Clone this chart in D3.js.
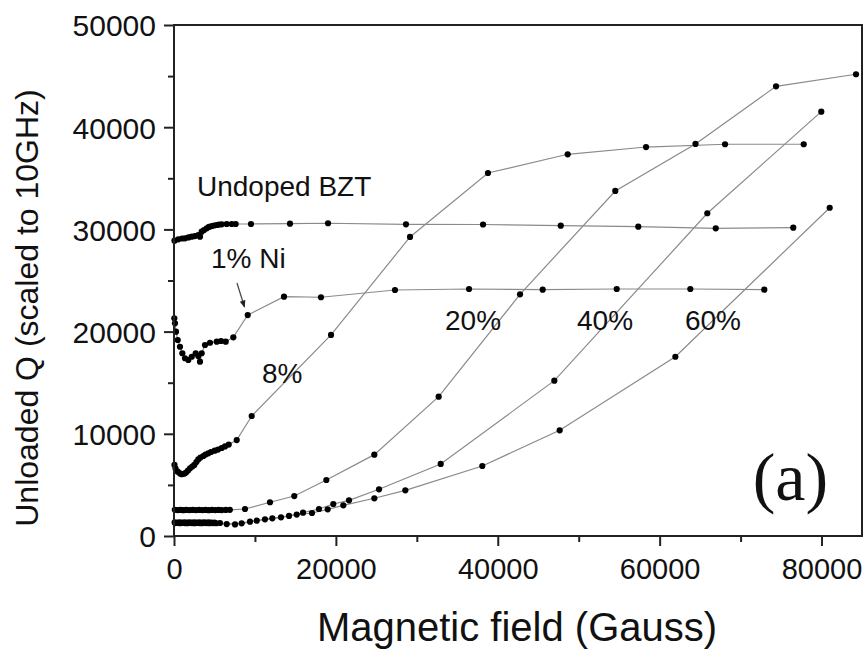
<!DOCTYPE html>
<html>
<head>
<meta charset="utf-8">
<script src="https://cdn.jsdelivr.net/npm/d3@7/dist/d3.min.js"></script>
<style>
  html, body { margin: 0; padding: 0; background: #fff; }
  svg { display: block; }
</style>
</head>
<body>
<svg id="chart" width="868" height="652"></svg>
<script>
// Unloaded Q (scaled to 10 GHz) versus applied magnetic field, per Ni doping level.
// Each series is [field (Gauss), Q] pairs.
const undoped = [
  [60, 28900], [530, 29030], [990, 29110], [1360, 29130], [1790, 29210], [2190, 29290],
  [2590, 29350], [3000, 29450], [3210, 29290], [3420, 29780], [3710, 29940], [4040, 30110],
  [4320, 30240], [4660, 30330], [4940, 30380], [5280, 30430], [5560, 30470], [5890, 30500],
  [6510, 30530], [7130, 30530], [7620, 30530], [9510, 30530], [14330, 30560], [19030, 30600],
  [28660, 30500], [38180, 30480], [47780, 30360], [57360, 30270], [66930, 30110], [76510, 30170]
];
const ni1 = [
  [40, 21300], [120, 20810], [250, 19990], [460, 19180], [740, 18520], [1030, 17880],
  [1360, 17390], [1770, 17220], [2190, 17540], [2680, 17880], [3000, 17610], [3210, 17060],
  [3420, 17880], [3830, 18690], [4450, 18910], [5280, 19010], [5810, 19080], [6390, 19010],
  [7330, 19440], [9110, 21620], [13590, 23420], [18160, 23360], [27300, 24070],
  [36450, 24170], [45550, 24100], [54700, 24170], [63790, 24170], [72930, 24100]
];
const ni8 = [
  [60, 6950], [190, 6600], [460, 6290], [740, 6120], [950, 6040], [1240, 6090], [1480, 6210],
  [1730, 6410], [1980, 6620], [2260, 6800], [2510, 6950], [2760, 7240], [3000, 7490],
  [3270, 7680], [3620, 7830], [3890, 7970], [4240, 8090], [4570, 8220], [5030, 8350],
  [5440, 8460], [5890, 8610], [6300, 8760], [6760, 8950], [7750, 9390], [9600, 11740],
  [19400, 19670], [29160, 29260], [38790, 35520], [48640, 37350], [58320, 38060],
  [68080, 38330], [77800, 38330]
];
const ni20 = [
  [100, 2560], [450, 2540], [800, 2550], [1150, 2530], [1500, 2550], [1900, 2540],
  [2300, 2550], [2700, 2540], [3100, 2550], [3500, 2540], [3900, 2550], [4300, 2530],
  [4700, 2550], [5100, 2540], [5500, 2550], [5900, 2540], [6400, 2550], [6900, 2560],
  [8770, 2640], [11860, 3300], [14860, 3910], [18820, 5480], [24750, 7960], [32700, 13630],
  [42750, 23650], [54520, 33760], [64430, 38360], [74380, 44000], [84260, 45180]
];
const ni40 = [
  [80, 1330], [400, 1320], [700, 1340], [1000, 1320], [1300, 1330], [1600, 1320],
  [1900, 1340], [2200, 1320], [2500, 1330], [2800, 1320], [3100, 1340], [3400, 1320],
  [3700, 1330], [4000, 1320], [4300, 1340], [4650, 1320], [5000, 1310], [5680, 1270],
  [7540, 1130], [9390, 1400], [11240, 1630], [13220, 1830], [15160, 2100], [15940, 2280],
  [17910, 2640], [19680, 3130], [21620, 3490], [25330, 4570], [32950, 7050],
  [46990, 15200], [65890, 31580], [79970, 41520]
];
const ni60 = [
  [150, 1260], [450, 1270], [750, 1250], [1050, 1270], [1350, 1260], [1650, 1250],
  [1950, 1270], [2250, 1260], [2550, 1250], [2850, 1270], [3150, 1260], [3450, 1250],
  [3750, 1270], [4050, 1260], [4400, 1250], [4800, 1260], [5200, 1250], [6510, 1170],
  [8360, 1240], [10220, 1500], [12150, 1730], [14210, 1960], [17050, 2250], [18990, 2610],
  [20920, 3000], [24750, 3690], [28580, 4470], [38090, 6850], [47650, 10340],
  [61940, 17540], [81010, 32120]
];
const seriesList = [undoped, ni1, ni8, ni20, ni40, ni60];

// Labels placed in data coordinates: [text, field, Q]
const seriesLabels = [
  ["Undoped BZT", 2840, 33270],
  ["1% Ni", 4570, 26220],
  ["8%", 10870, 14970],
  ["20%", 33480, 20160],
  ["40%", 49790, 20160],
  ["60%", 63130, 20160]
];
const xTicks = [0, 20000, 40000, 60000, 80000];
const xMinor = [10000, 30000, 50000, 70000];
const yTicks = [0, 10000, 20000, 30000, 40000, 50000];
const yMinor = [5000, 15000, 25000, 35000, 45000];

const SANS = "'Liberation Sans', Arial, sans-serif";
const SERIF = "'Liberation Serif', 'Times New Roman', serif";

const svg = d3.select("#chart");
const x = d3.scaleLinear().domain([0, 85000]).range([174, 862]);
const y = d3.scaleLinear().domain([0, 50000]).range([536, 25]);

// connecting lines and markers
const line = d3.line().x(d => x(d[0])).y(d => y(d[1]));
const plot = svg.append("g");
seriesList.forEach(s => {
  plot.append("path").attr("d", line(s))
    .attr("fill", "none").attr("stroke", "#8a8a8a").attr("stroke-width", 1.2);
});
seriesList.forEach(s => {
  plot.append("g").selectAll("circle").data(s).join("circle")
    .attr("cx", d => x(d[0])).attr("cy", d => y(d[1])).attr("r", 3.1)
    .attr("fill", "#000");
});

// frame
svg.append("rect").attr("x", 174).attr("y", 25).attr("width", 688).attr("height", 511)
  .attr("fill", "none").attr("stroke", "#222").attr("stroke-width", 2);

// axes
const xAxis = svg.append("g").attr("transform", "translate(0,536)")
  .call(d3.axisBottom(x).tickValues(xTicks).tickFormat(d3.format("d")).tickSize(10).tickPadding(12));
svg.append("g").attr("transform", "translate(0,536)")
  .call(d3.axisBottom(x).tickValues(xMinor).tickFormat("").tickSize(6));
const yAxis = svg.append("g").attr("transform", "translate(174,0)")
  .call(d3.axisLeft(y).tickValues(yTicks).tickFormat(d3.format("d")).tickSize(10).tickPadding(8));
svg.append("g").attr("transform", "translate(174,0)")
  .call(d3.axisLeft(y).tickValues(yMinor).tickFormat("").tickSize(6));
svg.selectAll(".domain").remove();
svg.selectAll(".tick line").attr("stroke", "#222").attr("stroke-width", 2);
xAxis.selectAll("text").style("font-family", SANS).style("font-size", "29px")
  .attr("fill", "#111").attr("dy", "0.71em");
yAxis.selectAll("text").style("font-family", SANS).style("font-size", "30px")
  .attr("fill", "#111").attr("dy", "0.36em");

// axis titles
svg.append("text").attr("x", 517).attr("y", 641).attr("text-anchor", "middle")
  .style("font-family", SANS).style("font-size", "40px").attr("fill", "#111")
  .text("Magnetic field (Gauss)");
svg.append("text").attr("transform", "translate(38,308) rotate(-90)")
  .attr("text-anchor", "middle")
  .style("font-family", SANS).style("font-size", "32px").attr("fill", "#111")
  .text("Unloaded Q (scaled to 10GHz)");

// series annotations
svg.append("g").selectAll("text").data(seriesLabels).join("text")
  .attr("x", d => x(d[1])).attr("y", d => y(d[2]))
  .style("font-family", SANS).style("font-size", "28px").attr("fill", "#111")
  .text(d => d[0]);

// arrow from the 1% Ni label to its curve
svg.append("defs").append("marker").attr("id", "head")
  .attr("viewBox", "0 0 10 10").attr("refX", 9).attr("refY", 5)
  .attr("markerWidth", 6).attr("markerHeight", 6).attr("orient", "auto")
  .append("path").attr("d", "M0,1 L10,5 L0,9 Z").attr("fill", "#222");
svg.append("line")
  .attr("x1", x(7780)).attr("y1", y(24760)).attr("x2", x(8710)).attr("y2", y(22410))
  .attr("stroke", "#444").attr("stroke-width", 1.2).attr("marker-end", "url(#head)");

// panel tag
svg.append("text").attr("x", x(71500)).attr("y", y(3520))
  .style("font-family", SERIF).style("font-size", "68px").attr("fill", "#111")
  .text("(a)");
</script>
</body>
</html>
